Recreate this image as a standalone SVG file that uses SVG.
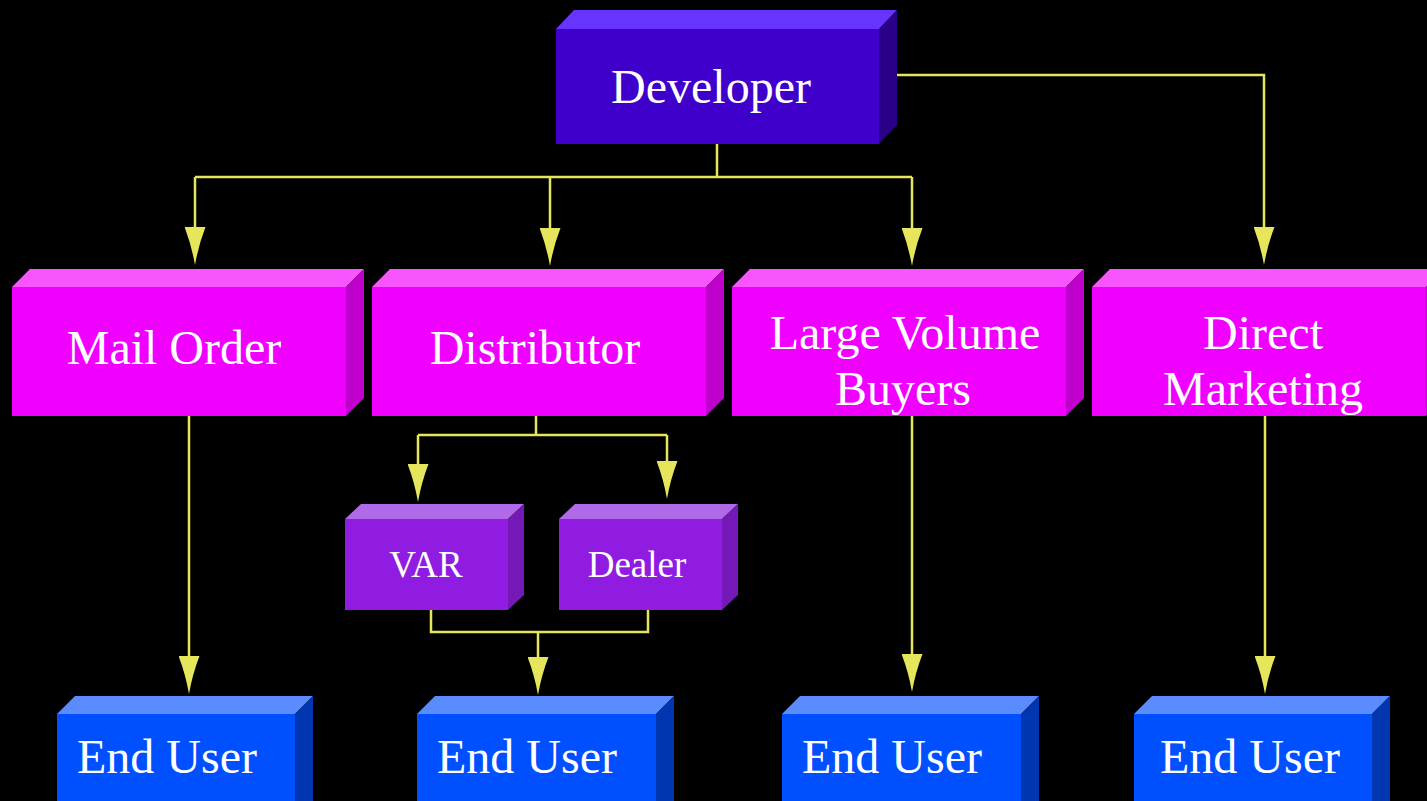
<svg xmlns="http://www.w3.org/2000/svg" width="1427" height="801" viewBox="0 0 1427 801">
  <defs>
    <style>
      .lbl { font-family: "Liberation Serif", "Times New Roman", serif; fill: #ffffff; text-anchor: middle; font-size: 48px; }
      .small { font-size: 37px; }
      .wire { fill: none; stroke: #e6e65c; stroke-width: 2.5; }
      .dev .front { fill: #3f00cc; } .dev .top { fill: #6633ff; } .dev .side { fill: #2a0088; }
      .mag .front { fill: #f000ff; } .mag .top { fill: #f855ff; } .mag .side { fill: #c000cc; }
      .pur .front { fill: #8f1ce0; } .pur .top { fill: #b06ae8; } .pur .side { fill: #7518b8; }
      .blu .front { fill: #0050ff; } .blu .top { fill: #5a8cff; } .blu .side { fill: #0036b0; }
    </style>
    <marker id="arrow" viewBox="0 0 38 21" refX="28" refY="10.5" markerWidth="38" markerHeight="21" markerUnits="userSpaceOnUse" orient="auto">
      <path d="M0,0 Q18,7 38,10.5 Q18,14 0,21 Z" fill="#e6e65c"/>
    </marker>
  </defs>

  <rect width="1427" height="801" fill="#000000"/>

  <!-- connectors -->
  <g id="connectors">
    <path class="wire" d="M717,144 V177"/>
    <path class="wire" d="M195,177 H912"/>
    <path class="wire" d="M195,177 V255" marker-end="url(#arrow)"/>
    <path class="wire" d="M550,177 V256" marker-end="url(#arrow)"/>
    <path class="wire" d="M912,177 V256" marker-end="url(#arrow)"/>
    <path class="wire" d="M897,75 H1264 V255" marker-end="url(#arrow)"/>
    <path class="wire" d="M189,416 V684" marker-end="url(#arrow)"/>
    <path class="wire" d="M536,416 V435"/>
    <path class="wire" d="M418,435 H667"/>
    <path class="wire" d="M418,435 V492" marker-end="url(#arrow)"/>
    <path class="wire" d="M667,435 V489" marker-end="url(#arrow)"/>
    <path class="wire" d="M431,610 V632 H648 V610"/>
    <path class="wire" d="M538,632 V685" marker-end="url(#arrow)"/>
    <path class="wire" d="M912,416 V682" marker-end="url(#arrow)"/>
    <path class="wire" d="M1265,416 V684" marker-end="url(#arrow)"/>
  </g>

  <!-- top level -->
  <g id="developer" class="dev">
    <polygon class="top" points="556,29 574,10 897,10 879,29"/>
    <polygon class="side" points="879,29 897,10 897,125 879,144"/>
    <rect class="front" x="556" y="29" width="323" height="115"/>
    <text class="lbl" x="711" y="103">Developer</text>
  </g>

  <!-- channels -->
  <g id="mail-order" class="mag">
    <polygon class="top" points="12,287 30,269 364,269 346,287"/>
    <polygon class="side" points="346,287 364,269 364,398 346,416"/>
    <rect class="front" x="12" y="287" width="334" height="129"/>
    <text class="lbl" x="174" y="364">Mail Order</text>
  </g>

  <g id="distributor" class="mag">
    <polygon class="top" points="372,287 390,269 724,269 706,287"/>
    <polygon class="side" points="706,287 724,269 724,398 706,416"/>
    <rect class="front" x="372" y="287" width="334" height="129"/>
    <text class="lbl" x="535" y="364">Distributor</text>
  </g>

  <g id="large-volume-buyers" class="mag">
    <polygon class="top" points="732,287 750,269 1084,269 1066,287"/>
    <polygon class="side" points="1066,287 1084,269 1084,398 1066,416"/>
    <rect class="front" x="732" y="287" width="334" height="129"/>
    <text class="lbl" x="905" y="349">Large Volume</text>
    <text class="lbl" x="903" y="405">Buyers</text>
  </g>

  <g id="direct-marketing" class="mag">
    <polygon class="top" points="1092,287 1110,269 1444,269 1426,287"/>
    <polygon class="side" points="1426,287 1444,269 1444,398 1426,416"/>
    <rect class="front" x="1092" y="287" width="334" height="129"/>
    <text class="lbl" x="1263" y="349">Direct</text>
    <text class="lbl" x="1263" y="405">Marketing</text>
  </g>

  <!-- resellers -->
  <g id="var" class="pur">
    <polygon class="top" points="345,519 361,504 524,504 508,519"/>
    <polygon class="side" points="508,519 524,504 524,595 508,610"/>
    <rect class="front" x="345" y="519" width="163" height="91"/>
    <text class="lbl small" x="426" y="577">VAR</text>
  </g>

  <g id="dealer" class="pur">
    <polygon class="top" points="559,519 575,504 738,504 722,519"/>
    <polygon class="side" points="722,519 738,504 738,595 722,610"/>
    <rect class="front" x="559" y="519" width="163" height="91"/>
    <text class="lbl small" x="637" y="577">Dealer</text>
  </g>

  <!-- end users -->
  <g id="end-user-1" class="blu">
    <polygon class="top" points="57,714 75,696 313,696 295,714"/>
    <polygon class="side" points="295,714 313,696 313,825 295,843"/>
    <rect class="front" x="57" y="714" width="238" height="129"/>
    <text class="lbl" x="167" y="773">End User</text>
  </g>

  <g id="end-user-2" class="blu">
    <polygon class="top" points="417,714 435,696 674,696 656,714"/>
    <polygon class="side" points="656,714 674,696 674,825 656,843"/>
    <rect class="front" x="417" y="714" width="239" height="129"/>
    <text class="lbl" x="527" y="773">End User</text>
  </g>

  <g id="end-user-3" class="blu">
    <polygon class="top" points="782,714 800,696 1039,696 1021,714"/>
    <polygon class="side" points="1021,714 1039,696 1039,825 1021,843"/>
    <rect class="front" x="782" y="714" width="239" height="129"/>
    <text class="lbl" x="892" y="773">End User</text>
  </g>

  <g id="end-user-4" class="blu">
    <polygon class="top" points="1134,714 1152,696 1390,696 1372,714"/>
    <polygon class="side" points="1372,714 1390,696 1390,825 1372,843"/>
    <rect class="front" x="1134" y="714" width="238" height="129"/>
    <text class="lbl" x="1250" y="773">End User</text>
  </g>
</svg>
